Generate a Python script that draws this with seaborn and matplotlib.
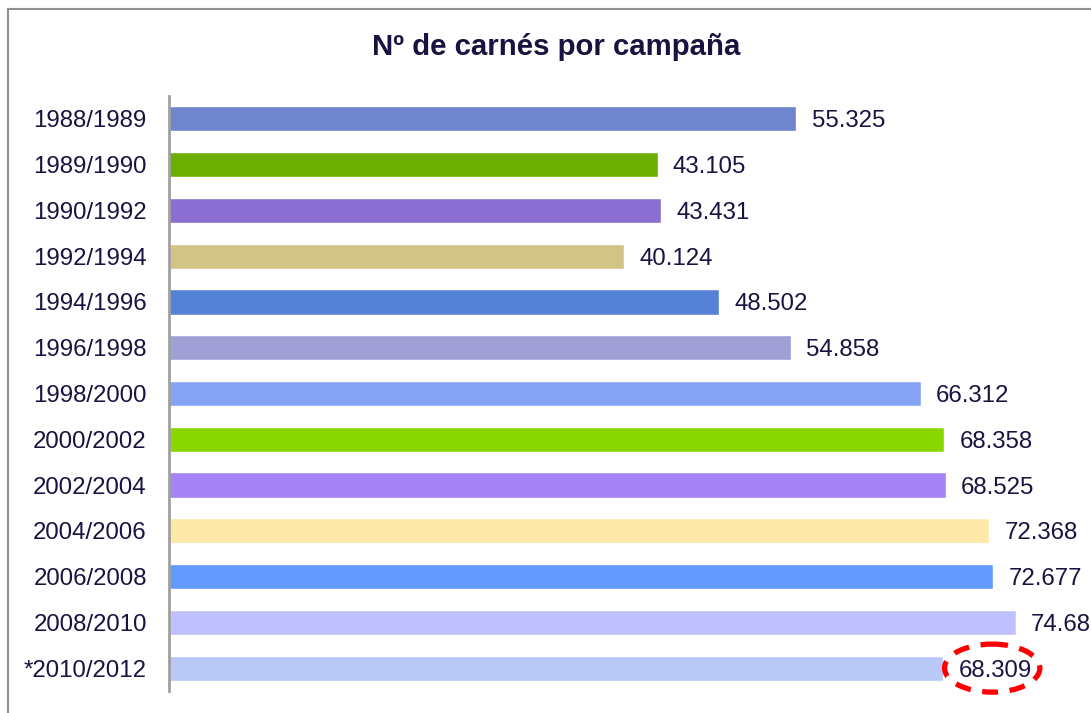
import matplotlib
matplotlib.use("Agg")
import matplotlib.pyplot as plt
import seaborn as sns
import pandas as pd
from matplotlib.patches import Rectangle, Ellipse

campaigns = ["1988/1989", "1989/1990", "1990/1992", "1992/1994", "1994/1996",
             "1996/1998", "1998/2000", "2000/2002", "2002/2004", "2004/2006",
             "2006/2008", "2008/2010", "*2010/2012"]
carnes = [55325, 43105, 43431, 40124, 48502, 54858, 66312, 68358, 68525,
          72368, 72677, 74681, 68309]
colors = ["#6F86CF", "#6DAF00", "#8A6ED2", "#D2C485", "#5582D6", "#A0A0D6",
          "#86A2F5", "#8AD600", "#A582F5", "#FFE9A8", "#629AFF", "#C0C0FF",
          "#BAC8F8"]
title = "Nº de carnés por campaña"

sns.set_theme(style="white")
plt.rcParams['font.family'] = ['Liberation Sans', 'DejaVu Sans']
text_color = "#1A1240"

df = pd.DataFrame({"campaign": campaigns, "carnes": carnes})

fig = plt.figure(figsize=(10.91, 7.13), dpi=100)
ax = fig.add_axes([169 / 1091, 22 / 713, 907 / 1091, 595 / 713])

sns.barplot(data=df, y="campaign", x="carnes", hue="campaign",
            palette=colors, orient="h", width=0.55, legend=False,
            saturation=1, ax=ax)

ax.set_xlim(0, 80000)
ax.set_ylim(len(campaigns) - 0.5, -0.5)
ax.set_xlabel("")
ax.set_ylabel("")
ax.set_xticks([])
for s in ["top", "right", "bottom"]:
    ax.spines[s].set_visible(False)
ax.spines["left"].set_color("#A0A0A0")
ax.spines["left"].set_linewidth(2)
ax.tick_params(axis="y", length=0, pad=16, labelsize=17.3, labelcolor=text_color)
for t in ax.get_yticklabels():
    t.set_verticalalignment("center_baseline")

for i, v in enumerate(carnes):
    lbl = f"{v:,}".replace(",", ".")
    ax.annotate(lbl, xy=(v, i), xytext=(11, 0), textcoords="offset points",
                va="center_baseline", ha="left", fontsize=17.3, color=text_color,
                annotation_clip=False)

# dashed red ellipse around the last label
last = len(carnes) - 1
ell = Ellipse((carnes[last] + 4300, last), width=8400, height=1.05,
              fill=False, edgecolor="#FF0000", linewidth=3.8,
              linestyle=(0, (3.0, 2.2)), clip_on=False)
ax.add_patch(ell)

fig.text(556 / 1091, 1 - 47 / 713, title, ha="center", va="center",
         fontsize=21.2, fontweight="bold", color=text_color)

# outer chart border
fig.patches.append(Rectangle((8 / 1091, -0.1), 1.2, 1 - 9 / 713 + 0.1,
                             transform=fig.transFigure, fill=False,
                             edgecolor="#909090", linewidth=1.5))

fig.savefig("out.png", dpi=100)
